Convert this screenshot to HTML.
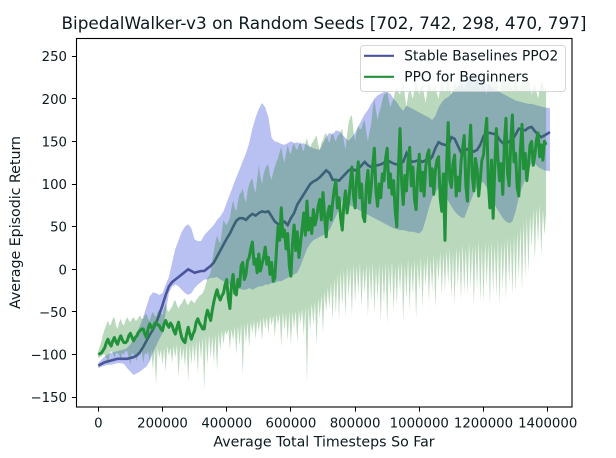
<!DOCTYPE html>
<html>
<head>
<meta charset="utf-8">
<title>BipedalWalker-v3 chart</title>
<style>
html,body{margin:0;padding:0;background:#fff;width:616px;height:458px;overflow:hidden}
svg{display:block}
text{font-family:"DejaVu Sans","Liberation Sans",sans-serif;fill:#0c1a1f}
</style>
</head>
<body>
<svg id="chart" width="616" height="458" viewBox="0 0 616 458" xmlns="http://www.w3.org/2000/svg">
<defs><clipPath id="plot-clip"><rect x="76.5" y="38.5" width="495.5" height="368.5"/></clipPath></defs>
<rect x="76.5" y="38.5" width="495.5" height="368.5" fill="#fff"/>
<g id="marks" clip-path="url(#plot-clip)"></g>
<g id="ticks"></g>
<rect x="76.5" y="38.5" width="495.5" height="368.5" fill="none" stroke="#000" stroke-width="1.1"/>
<text x="324" y="29" font-size="16.85" text-anchor="middle">BipedalWalker-v3 on Random Seeds [702, 742, 298, 470, 797]</text>
<text x="324" y="446.5" font-size="14.2" text-anchor="middle">Average Total Timesteps So Far</text>
<text transform="translate(20,222.5) rotate(-90)" font-size="14.2" text-anchor="middle">Average Episodic Return</text>
<g>
<rect x="360.5" y="45.5" width="205" height="46" rx="3" fill="#fff" fill-opacity="0.8" stroke="#ccc" stroke-opacity="0.8" stroke-width="1"/>
<line x1="364" x2="394" y1="55.8" y2="55.8" stroke="#4a549c" stroke-width="2.1"/>
<text x="404.3" y="60.5" font-size="13.75">Stable Baselines PPO2</text>
<line x1="364" x2="394" y1="76.8" y2="76.8" stroke="#21913a" stroke-width="2.1"/>
<text x="404.3" y="81.5" font-size="13.75">PPO for Beginners</text>
</g>
</svg>
<script>
const xTickValues = [0,200000,400000,600000,800000,1000000,1200000,1400000];
const yTickValues = [-150,-100,-50,0,50,100,150,200,250];
const ppo2Timesteps = [0,10000,20000,30000,40000,50000,60000,70000,80000,90000,100000,110000,120000,130000,140000,150000,160000,170000,180000,190000,200000,210000,220000,230000,240000,250000,260000,270000,280000,290000,300000,310000,320000,330000,340000,350000,360000,370000,380000,390000,400000,410000,420000,430000,440000,450000,460000,470000,480000,490000,500000,510000,520000,530000,540000,550000,560000,570000,580000,590000,600000,610000,620000,630000,640000,650000,660000,670000,680000,690000,700000,710000,720000,730000,740000,750000,760000,770000,780000,790000,800000,810000,820000,830000,840000,850000,860000,870000,880000,890000,900000,910000,920000,930000,940000,950000,960000,970000,980000,990000,1000000,1010000,1020000,1030000,1040000,1050000,1060000,1070000,1080000,1090000,1100000,1110000,1120000,1130000,1140000,1150000,1160000,1170000,1180000,1190000,1200000,1210000,1220000,1230000,1240000,1250000,1260000,1270000,1280000,1290000,1300000,1310000,1320000,1330000,1340000,1350000,1360000,1370000,1380000,1390000,1407000];
const beginnersStep = 5000;
const ppo2Mean = [-113,-111,-109,-108,-107,-106,-105,-105,-105,-105,
-104,-103,-101,-97,-91,-84,-77,-71,-63,-53,
-42,-30,-20,-15,-12,-9,-6,-3,0,-2,
-4,-3,-2,-2,1,4,8,15,22,29,
36,42,50,57,60,60,58,62,65,63,
66,68,67,68,62,56,53,54,56,52,
60,66,76,82,88,94,100,103,105,108,
112,116,113,105,105,104,108,112,116,118,
116,118,122,126,122,120,122,122,123,125,
128,126,124,123,124,126,136,128,126,127,
128,126,128,127,132,142,149,147,146,145,
155,153,145,137,139,141,140,138,140,146,
156,160,160,159,158,152,148,147,150,152,
158,165,164,163,166,167,162,158,155,157,161];
const ppo2Upper = [-110,-106,-102,-100,-98,-97,-96,-95,-94,-92,
-88,-82,-74,-66,-56,-44,-32,-27,-28,-30,
-28,-18,-9,8,24,34,44,50,53,48,
35,33,33,40,44,48,52,58,62,68,
78,88,98,108,117,127,136,148,165,178,
188,195,190,178,154,150,149,147,146,148,
150,148,149,147,148,146,144,142,141,140,
148,155,160,158,163,162,158,154,151,155,
160,168,175,182,187,194,200,204,206,208,
208,206,200,196,190,186,192,190,188,186,
184,182,180,178,175,180,190,196,200,202,
206,210,214,216,218,222,224,226,224,222,
220,218,215,212,210,208,206,204,202,200,
198,197,196,195,194,194,193,192,191,190,189];
const ppo2Lower = [-116,-114,-113,-112,-112,-111,-110,-110,-111,-116,
-120,-124,-122,-120,-117,-114,-108,-98,-90,-82,
-75,-50,-28,-20,-18,-20,-24,-28,-30,-28,
-22,-18,-15,-12,-12,-10,-10,-9,-12,-14,
-16,-18,-20,-22,-23,-24,-24,-22,-24,-22,
-20,-20,-18,-18,-16,-16,-14,-14,-12,-10,
-8,-6,-4,4,14,24,30,34,36,38,
40,42,46,54,62,70,81,78,76,74,
72,70,68,66,64,62,60,58,56,54,
52,50,48,47,46,46,45,44,44,43,
42,46,58,72,84,90,96,97,90,80,
74,68,64,61,60,70,80,90,98,102,
102,96,88,80,72,66,60,56,54,56,
68,84,96,106,116,125,124,120,118,116,115];
const beginnersMean = [-100,-99,-98,-95,-92,-86,-82,-87,-90,-84,-80,-85,-88,-82,-78,-83,-86,-86,-84,-78,
-75,-80,-84,-80,-78,-74,-72,-70,-70,-76,-80,-70,-64,-68,-70,-64,-62,-65,-66,-70,
-72,-64,-60,-65,-68,-63,-66,-72,-76,-68,-62,-72,-80,-84,-86,-76,-68,-76,-82,-76,
-72,-62,-58,-63,-66,-70,-70,-56,-48,-54,-60,-48,-38,-30,-24,-32,-36,-31,-28,-18,
-12,-34,-46,-18,-6,-28,-30,-12,-20,4,8,-12,-6,10,14,24,32,6,12,-4,
18,-2,6,14,26,6,14,-6,8,-14,-10,22,50,34,72,38,46,24,42,4,
-8,30,52,22,44,14,30,48,66,40,80,46,60,42,70,52,60,74,82,58,
90,62,38,66,74,58,78,94,104,72,84,60,46,76,92,66,80,100,120,86,
72,108,126,84,100,62,56,98,116,78,96,122,142,92,74,100,84,112,104,130,
142,96,112,88,104,68,50,118,165,102,76,110,92,128,143,98,120,82,70,112,
135,92,114,86,120,134,140,98,118,88,116,128,132,84,68,112,34,122,172,104,
96,124,134,86,108,92,126,142,157,98,80,134,169,110,92,130,118,86,106,128,
134,158,177,102,72,128,60,118,165,130,104,124,88,148,177,112,98,150,181,126,
136,96,86,140,170,118,136,104,122,146,150,122,134,152,160,132,146,128,150,146];
const beginnersUpper = [-96,-90,-84,-76,-70,-65,-60,-66,-64,-58,-56,-66,-70,-62,-58,-64,-66,-60,-56,-60,
-62,-58,-56,-60,-60,-57,-54,-58,-58,-54,-52,-58,-60,-54,-50,-54,-56,-50,-48,-52,
-54,-46,-40,-48,-50,-46,-44,-38,-36,-42,-46,-42,-40,-36,-34,-40,-42,-38,-36,-38,
-40,-36,-34,-31,-30,-28,-24,-18,-10,-8,-4,10,22,32,40,34,30,44,58,54,
52,56,60,72,81,72,68,80,88,90,95,84,78,92,100,104,107,96,90,106,
122,108,100,112,118,122,122,110,105,114,120,126,130,138,143,132,125,136,146,138,
135,144,148,142,140,146,150,142,138,148,154,146,142,148,150,154,157,146,140,148,
152,158,160,152,148,156,161,154,150,156,158,162,165,150,140,158,172,178,181,162,
150,162,168,164,165,172,175,160,150,162,170,188,200,186,175,184,190,198,205,206,
208,198,190,196,200,210,215,208,205,214,222,204,190,204,214,206,200,212,222,212,
205,212,218,204,195,210,222,214,210,214,215,206,200,212,222,214,208,216,225,214,
205,214,222,216,212,220,225,216,210,216,220,225,228,220,215,222,225,218,210,216,
222,212,205,218,228,220,215,220,222,214,208,218,225,220,215,222,228,218,210,218,
225,216,210,216,222,218,215,220,225,214,205,212,218,208,200,212,222,216,210,212];
const beginnersLower = [-104,-103,-102,-100,-100,-104,-112,-100,-96,-98,-104,-98,-98,-100,-106,-98,-100,-96,-96,-104,
-112,-98,-100,-102,-108,-96,-102,-96,-110,-98,-100,-96,-108,-94,-118,-94,-136,-92,-104,-94,
-112,-92,-120,-90,-102,-92,-110,-90,-104,-88,-128,-90,-108,-92,-114,-88,-132,-88,-112,-86,
-110,-84,-122,-82,-106,-80,-142,-78,-112,-76,-104,-78,-110,-76,-120,-74,-96,-72,-88,-72,
-77,-70,-94,-70,-84,-68,-100,-66,-90,-64,-124,-64,-86,-62,-92,-62,-75,-60,-82,-60,
-73,-58,-84,-56,-70,-56,-76,-54,-66,-54,-80,-52,-65,-52,-91,-50,-72,-52,-84,-50,
-89,-50,-70,-48,-87,-48,-64,-46,-78,-44,-132,-44,-72,-40,-66,-38,-89,-34,-58,-30,
-75,-26,-50,-22,-46,-16,-60,-10,-52,-6,-59,-2,-44,0,-57,4,-34,2,-54,6,
-40,4,-30,8,-46,2,-28,6,-56,4,-38,8,-52,2,-36,6,-62,4,-40,8,
-65,6,-34,10,-50,4,-42,8,-28,10,-62,6,-36,12,-48,8,-30,12,-59,8,
-26,14,-44,10,-20,16,-38,12,-26,18,-46,14,-15,20,-30,18,-26,22,-18,24,
-34,20,-42,26,-22,24,-36,30,-28,26,-30,32,-22,28,-44,30,-24,34,-38,28,
-38,32,-20,30,-42,34,-28,30,-32,36,-42,32,-24,34,-36,38,-18,36,-30,40,
-26,44,-12,50,-24,56,-10,60,-4,64,25,70,10,72,30,76,16,70,40,66];

const SVG_NS = 'http://www.w3.org/2000/svg';
function xScale(v){ return 98.3 + v * (449.4 / 1400000); }
function yScale(v){ return 269.3 - v * 0.8525; }
function ppo2X(i){ return xScale(ppo2Timesteps[i]); }
function beginnersX(i){ return xScale(i * beginnersStep); }

const marks = document.getElementById('marks');
const ticks = document.getElementById('ticks');

function bandPath(lower, upper, xAt){
  let d = '';
  upper.forEach(function(v,i){ d += (i ? 'L' : 'M') + xAt(i).toFixed(2) + ' ' + yScale(v).toFixed(2); });
  for (let i = lower.length - 1; i >= 0; i--) { d += 'L' + xAt(i).toFixed(2) + ' ' + yScale(lower[i]).toFixed(2); }
  return d + 'Z';
}
function linePath(values, xAt){
  let d = '';
  values.forEach(function(v,i){ d += (i ? 'L' : 'M') + xAt(i).toFixed(2) + ' ' + yScale(v).toFixed(2); });
  return d;
}

const ppo2Band = document.createElementNS(SVG_NS, 'path');


ppo2Band.setAttribute('d', bandPath(ppo2Lower, ppo2Upper, ppo2X));
ppo2Band.setAttribute('fill', 'rgba(22,48,212,0.3)');
marks.appendChild(ppo2Band);

const ppo2Line = document.createElementNS(SVG_NS, 'path');


ppo2Line.setAttribute('d', linePath(ppo2Mean, ppo2X));
ppo2Line.setAttribute('fill', 'none');
ppo2Line.setAttribute('stroke', '#4a549c');
ppo2Line.setAttribute('stroke-width', '2.6');
marks.appendChild(ppo2Line);

const beginnersBand = document.createElementNS(SVG_NS, 'path');


beginnersBand.setAttribute('d', bandPath(beginnersLower, beginnersUpper, beginnersX));
beginnersBand.setAttribute('fill', 'rgba(25,128,32,0.3)');
marks.appendChild(beginnersBand);

const beginnersLine = document.createElementNS(SVG_NS, 'path');


beginnersLine.setAttribute('d', linePath(beginnersMean, beginnersX));
beginnersLine.setAttribute('fill', 'none');
beginnersLine.setAttribute('stroke', '#21913a');
beginnersLine.setAttribute('stroke-width', '3');
beginnersLine.setAttribute('stroke-linejoin', 'round');
marks.appendChild(beginnersLine);

xTickValues.forEach(function(v){
  const x = Math.round(xScale(v) - 0.5) + 0.5;
  const tick = document.createElementNS(SVG_NS, 'line');
  
  
  tick.setAttribute('x1', x);
  tick.setAttribute('x2', x);
  tick.setAttribute('y1', 407);
  tick.setAttribute('y2', 411.6);
  tick.setAttribute('stroke', '#000');
  tick.setAttribute('stroke-width', '1');
  ticks.appendChild(tick);
  const label = document.createElementNS(SVG_NS, 'text');
  
  
  label.setAttribute('x', xScale(v));
  label.setAttribute('y', 427.3);
  label.setAttribute('font-size', '13.3');
  label.setAttribute('text-anchor', 'middle');
  label.textContent = String(v);
  ticks.appendChild(label);
});

yTickValues.forEach(function(v){
  const y = Math.round(yScale(v) - 0.5) + 0.5;
  const tick = document.createElementNS(SVG_NS, 'line');
  
  
  tick.setAttribute('x1', 71.9);
  tick.setAttribute('x2', 76.5);
  tick.setAttribute('y1', y);
  tick.setAttribute('y2', y);
  tick.setAttribute('stroke', '#000');
  tick.setAttribute('stroke-width', '1');
  ticks.appendChild(tick);
  const label = document.createElementNS(SVG_NS, 'text');
  
  
  label.setAttribute('x', 67);
  label.setAttribute('y', yScale(v) + 5);
  label.setAttribute('font-size', '13.3');
  label.setAttribute('text-anchor', 'end');
  label.textContent = String(v).replace('-', '\u2212');
  ticks.appendChild(label);
});
</script>
</body>
</html>
